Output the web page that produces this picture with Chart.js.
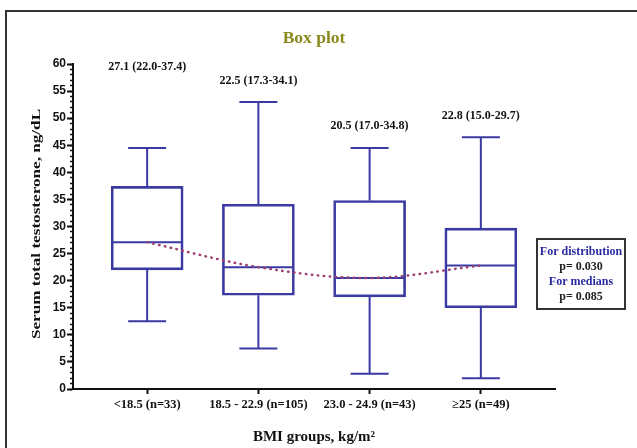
<!DOCTYPE html>
<html>
<head>
<meta charset="utf-8">
<script src="https://cdn.jsdelivr.net/npm/chart.js@4.4.1/dist/chart.umd.min.js"></script>
<style>
  html, body { margin: 0; padding: 0; background: #fff; }
</style>
</head>
<body>
<canvas id="myChart" width="637" height="448"></canvas>
<script>
// data
const categories = ['<18.5 (n=33)', '18.5 - 22.9 (n=105)', '23.0 - 24.9 (n=43)', '\u226525 (n=49)'];
const minValues = [12.5, 7.5, 2.8, 2.0];
const q1Values = [22.0, 17.3, 17.0, 15.0];
const medianValues = [27.1, 22.5, 20.5, 22.8];
const q3Values = [37.4, 34.1, 34.8, 29.7];
const maxValues = [44.5, 53.0, 44.5, 46.5];
const yTicks = [0, 5, 10, 15, 20, 25, 30, 35, 40, 45, 50, 55, 60];
const statLines = ['For distribution', 'p= 0.030', 'For medians', 'p= 0.085'];

const boxBlue = '#3a3aa2';
const serif = 'Liberation Serif';
// where the summary text sits above each group (value units)
const labelY = [59.4, 56.9, 48.5, 50.5];

const boxPlotExtras = {
  id: 'boxPlotExtras',
  beforeDraw(chart) {
    const ctx = chart.ctx;
    ctx.save();
    ctx.strokeStyle = '#333';
    ctx.lineWidth = 2;
    ctx.beginPath();
    ctx.moveTo(6, 448);
    ctx.lineTo(6, 11);
    ctx.lineTo(637, 11);
    ctx.stroke();
    ctx.restore();
  },
  beforeDatasetsDraw(chart) {
    const ctx = chart.ctx;
    const xs = chart.scales.x, ys = chart.scales.y;
    ctx.save();
    ctx.strokeStyle = boxBlue;
    ctx.lineWidth = 2;
    categories.forEach((c, i) => {
      const cx = xs.getPixelForValue(i + 1);
      const pMax = ys.getPixelForValue(maxValues[i]);
      const pMin = ys.getPixelForValue(minValues[i]);
      const pQ1 = ys.getPixelForValue(q1Values[i]);
      const pQ3 = ys.getPixelForValue(q3Values[i]);
      const pMed = ys.getPixelForValue(medianValues[i]);
      ctx.beginPath();
      ctx.moveTo(cx, pQ3); ctx.lineTo(cx, pMax);
      ctx.moveTo(cx - 19, pMax); ctx.lineTo(cx + 19, pMax);
      ctx.moveTo(cx, pQ1); ctx.lineTo(cx, pMin);
      ctx.moveTo(cx - 19, pMin); ctx.lineTo(cx + 19, pMin);
      ctx.moveTo(cx - 35, pMed); ctx.lineTo(cx + 35, pMed);
      ctx.stroke();
    });
    ctx.restore();
  },
  afterDraw(chart) {
    const ctx = chart.ctx;
    const xs = chart.scales.x, ys = chart.scales.y;
    ctx.save();
    // summary labels
    ctx.fillStyle = '#111';
    ctx.font = 'bold 12px "' + serif + '"';
    ctx.textAlign = 'center';
    ctx.textBaseline = 'middle';
    categories.forEach((c, i) => {
      const txt = medianValues[i].toFixed(1) + ' (' + q1Values[i].toFixed(1) + '-' + q3Values[i].toFixed(1) + ')';
      ctx.fillText(txt, xs.getPixelForValue(i + 1), ys.getPixelForValue(labelY[i]));
    });

    // p-value box
    ctx.strokeStyle = '#333';
    ctx.lineWidth = 2;
    ctx.strokeRect(537, 239, 88, 70);
    statLines.forEach((t, i) => {
      ctx.fillStyle = i % 2 === 0 ? '#2b2ba0' : '#222';
      ctx.fillText(t, 581, 252 + i * 15);
    });

    // y axis title (the original is stretched along its length)
    ctx.translate(37, 224);
    ctx.rotate(-Math.PI / 2);
    ctx.scale(1.27, 1);
    ctx.fillStyle = '#111';
    ctx.font = 'bold 13.5px "' + serif + '"';
    ctx.fillText('Serum total testosterone, ng/dL', 0, 0);
    ctx.restore();
  }
};

const ctx = document.getElementById('myChart').getContext('2d');

let myChart = new Chart(ctx, {
  type: 'bar',
  data: {
    datasets: [{
      type: 'line',
      data: medianValues.map((m, i) => ({ x: i + 1, y: m })),
      borderColor: '#9c3f72',
      borderWidth: 2.5,
      borderDash: [0.5, 5.5],
      borderCapStyle: 'round',
      tension: 0.35,
      pointRadius: 0,
      fill: false,
      order: 0
    }, {
      type: 'bar',
      data: q1Values.map((q, i) => ({ x: i + 1, y: [q, q3Values[i]] })),
      backgroundColor: 'rgba(0,0,0,0)',
      borderColor: boxBlue,
      borderWidth: 2,
      borderSkipped: false,
      barThickness: 72,
      order: 1
    }]
  },
  options: {
    responsive: false,
    animation: false,
    devicePixelRatio: 1,
    layout: { padding: { left: 0, right: 82, top: 0, bottom: 0 } },
    plugins: {
      legend: { display: false },
      tooltip: { enabled: false },
      title: {
        display: true,
        text: 'Box plot',
        fullSize: false,
        color: '#8a8a1f',
        font: { family: serif, size: 17.5, weight: 'bold' },
        padding: { top: 28, bottom: 15 }
      }
    },
    scales: {
      x: {
        type: 'linear',
        min: 1 / 3,
        max: 14 / 3,
        offset: false,
        afterBuildTicks: s => { s.ticks = categories.map((c, i) => ({ value: i + 1 })); },
        afterFit: s => { s.height = 59; },
        ticks: {
          callback: v => categories[v - 1],
          color: '#111',
          font: { family: serif, size: 12.5, weight: 'bold' },
          padding: 3,
          maxRotation: 0,
          autoSkip: false
        },
        grid: { offset: false, drawOnChartArea: false, tickLength: 5, tickWidth: 2, tickColor: '#111' },
        border: { color: '#111', width: 2 },
        title: {
          display: true,
          text: 'BMI groups, kg/m\u00b2',
          color: '#111',
          font: { family: serif, size: 15, weight: 'bold' },
          padding: { top: 0, bottom: 2 }
        }
      },
      y: {
        min: 0,
        max: 60,
        weight: 0,
        afterBuildTicks: s => { s.ticks = yTicks.map(v => ({ value: v })); },
        afterFit: s => { s.width = 73; },
        ticks: {
          color: '#111',
          font: { family: 'Liberation Sans', size: 12, weight: 'bold' },
          padding: 1
        },
        grid: { drawOnChartArea: false, tickLength: 6, tickWidth: 2, tickColor: '#111' },
        border: { color: '#111', width: 2 }
      },
      yMinor: {
        position: 'left',
        weight: -1,
        min: 0,
        max: 60,
        afterBuildTicks: s => {
          const t = [];
          for (let v = 0; v <= 60; v++) t.push({ value: v });
          s.ticks = t;
        },
        afterFit: s => { s.width = 0; },
        ticks: { display: false },
        grid: { drawOnChartArea: false, tickLength: 3, tickWidth: 1.5, tickColor: '#111' },
        border: { display: false }
      }
    }
  },
  plugins: [boxPlotExtras]
});
</script>
</body>
</html>
